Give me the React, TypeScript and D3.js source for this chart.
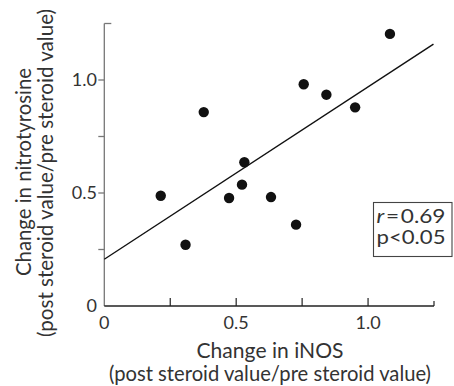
import React from "react";
import * as d3 from "d3";

const inosChange = [0.214, 0.308, 0.377, 0.473, 0.522, 0.531, 0.632, 0.727, 0.756, 0.842, 0.951, 1.083];
const nitroChange = [0.488, 0.271, 0.858, 0.478, 0.537, 0.636, 0.482, 0.360, 0.981, 0.935, 0.879, 1.204];
const fitX = [0, 1.248];
const fitY = [0.207, 1.159];
const xTicks = [0, 0.25, 0.5, 0.75, 1.0, 1.25];
const yTicks = [0, 0.25, 0.5, 0.75, 1.0];
const xTickLabels = ["0", "", "0.5", "", "1.0", ""];
const yTickLabels = ["0", "", "0.5", "", "1.0"];
const xTitle = ["Change in iNOS", "(post steroid value/pre steroid value)"];
const yTitle = ["Change in nitrotyrosine", "(post steroid value/pre steroid value)"];
const statLines = ["0.69", "p<0.05"];

const W = 454;
const H = 386;
const FONT = "Lato, 'Liberation Sans', Arial, sans-serif";
const TXT = "#333";

export default function App() {
  const x = d3.scaleLinear().domain([0, 1.25]).range([104.3, 434]);
  const y = d3.scaleLinear().domain([0, 1.25]).range([306, 23.5]);
  const line = d3
    .line<number>()
    .x((_, i) => x(fitX[i]))
    .y((d) => y(d));
  const x0 = x(0);
  const y0 = y(0);
  const yTop = y(1.25);
  const xEnd = x(1.25);
  return (
    <div style={{ position: "absolute", left: 0, top: 0 }}>
      <svg width={W} height={H} style={{ display: "block", background: "#fff" }} fontFamily={FONT} fontWeight={400}>
        {/* y axis */}
        <line x1={x0} x2={x0} y1={yTop} y2={y0} stroke="#777" strokeWidth={1.3} />
        <line x1={x0} x2={x0 + 7} y1={yTop} y2={yTop} stroke="#777" strokeWidth={1.3} />
        {yTicks.map((t, i) => (
          <g key={"yt" + i}>
            {t > 0 && (
              <line x1={x0 - 6} x2={x0} y1={y(t)} y2={y(t)} stroke="#777" strokeWidth={1.3} />
            )}
            {yTickLabels[i] && (
              <text x={97} y={y(t)} dy="0.36em" textAnchor="end" fontSize={18} fill={TXT}>
                {yTickLabels[i]}
              </text>
            )}
          </g>
        ))}
        {/* x axis */}
        <line x1={x0} x2={xEnd} y1={y0} y2={y0} stroke="#222" strokeWidth={1.3} />
        {xTicks.map((t, i) => (
          <g key={"xt" + i}>
            {t > 0 && (
              <line x1={x(t)} x2={x(t)} y1={y0} y2={y0 - (t === 1.25 ? 5 : 8)} stroke="#222" strokeWidth={1.2} />
            )}
            {xTickLabels[i] && (
              <text x={x(t)} y={329} textAnchor="middle" fontSize={18} fill={TXT}>
                {xTickLabels[i]}
              </text>
            )}
          </g>
        ))}
        {/* regression line */}
        <path d={line(fitY) || ""} fill="none" stroke="#111" strokeWidth={1.4} />
        {/* points */}
        {inosChange.map((v, i) => (
          <circle key={"p" + i} cx={x(v)} cy={y(nitroChange[i])} r={5.2} fill="#111" />
        ))}
        {/* stats box */}
        <rect x={373.5} y={202.5} width={78.5} height={54} fill="#fff" stroke="#444" strokeWidth={1.1} />
        <text x={376.5} y={223} fontSize={19.5} fill={TXT} textLength={69} lengthAdjust="spacingAndGlyphs">
          <tspan fontStyle="italic">r</tspan>
          <tspan dx={1.5}>=</tspan>
          <tspan dx={1.5}>{statLines[0]}</tspan>
        </text>
        <text x={376.5} y={244} fontSize={19.5} fill={TXT} textLength={69} lengthAdjust="spacingAndGlyphs">
          {statLines[1]}
        </text>
        {/* x title */}
        <text x={270} y={358} textAnchor="middle" fontSize={21} fill={TXT} textLength={147} lengthAdjust="spacingAndGlyphs">
          {xTitle[0]}
        </text>
        <text x={270} y={381} textAnchor="middle" fontSize={21} fill={TXT} textLength={322} lengthAdjust="spacingAndGlyphs">
          {xTitle[1]}
        </text>
        {/* y title */}
        <text transform="translate(31,172) rotate(-90)" textAnchor="middle" fontSize={21} fill={TXT} textLength={208} lengthAdjust="spacingAndGlyphs">
          {yTitle[0]}
        </text>
        <text transform="translate(53,173) rotate(-90)" textAnchor="middle" fontSize={21} fill={TXT} textLength={328} lengthAdjust="spacingAndGlyphs">
          {yTitle[1]}
        </text>
      </svg>
    </div>
  );
}
